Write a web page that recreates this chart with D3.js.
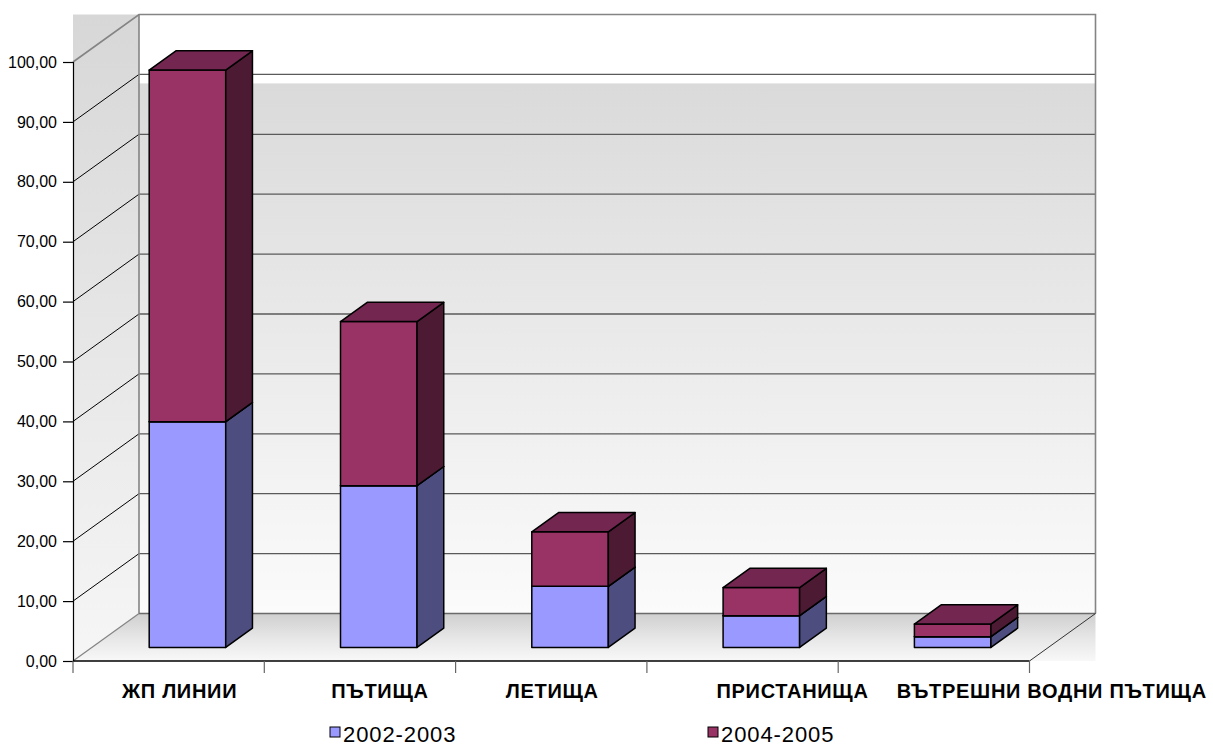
<!DOCTYPE html>
<html>
<head>
<meta charset="utf-8">
<script src="https://cdn.jsdelivr.net/npm/d3@7"></script>
<style>
  html, body { margin: 0; padding: 0; background: #ffffff; }
  svg { display: block; font-family: "Liberation Sans", Arial, sans-serif; }
</style>
</head>
<body>
<svg id="chart" width="1213" height="745"></svg>
<script>
// Transport infrastructure shares by mode, two periods (stacked 3D columns)
const categories = ["ЖП ЛИНИИ", "ПЪТИЩА", "ЛЕТИЩА", "ПРИСТАНИЩА", "ВЪТРЕШНИ ВОДНИ ПЪТИЩА"];
const seriesNames = ["2002-2003", "2004-2005"];
const values2002_2003 = [37.7, 27.0, 10.2, 5.3, 1.8];
const values2004_2005 = [58.7, 27.4, 9.1, 4.7, 2.1];
const yTicks = [0, 10, 20, 30, 40, 50, 60, 70, 80, 90, 100];

const svg = d3.select("#chart");

// Front plane of the plot and the oblique depth offset
const plot = { left: 73, right: 1029.5, bottom: 661, top: 62 };
const DX = 66, DY = -47.5;
const barFront = 0.285, barBack = 0.69;   // depth fractions of the columns

const x = d3.scaleBand().domain(categories).range([plot.left, plot.right])
  .paddingInner(0.6).paddingOuter(0.3);
const step = x.step();
const y = d3.scaleLinear().domain([0, 100]).range([plot.bottom, plot.top]);

const fmt = v => d3.format(".2f")(v).replace(".", ",");

const colors = [
  { front: "#9999FF", side: "#4D4D80", top: "#7A7ACC" },
  { front: "#993366", side: "#4D1A33", top: "#732650" }
];

const defs = svg.append("defs");
function vGrad(id, stops) {
  const g = defs.append("linearGradient").attr("id", id)
    .attr("x1", 0).attr("y1", 0).attr("x2", 0).attr("y2", 1);
  stops.forEach(([o, c]) => g.append("stop").attr("offset", o).attr("stop-color", c));
}
vGrad("wallGrad", [[0, "#dadada"], [1, "#fbfbfb"]]);
vGrad("sideGrad", [[0, "#d7d7d7"], [1, "#f6f6f6"]]);
vGrad("floorGrad", [[0, "#cfcfcf"], [0.5, "#e6e6e6"], [1, "#f8f8f8"]]);

const backL = plot.left + DX, backR = plot.right + DX;
const backTop = y(100) + DY, backBottom = y(0) + DY;

// Back wall: plain band at the top, shaded below the upper grid line
svg.append("rect").attr("x", backL).attr("y", backTop)
  .attr("width", backR - backL).attr("height", backBottom - backTop).attr("fill", "#ffffff");
svg.append("rect").attr("x", backL).attr("y", y(90) + DY + 9)
  .attr("width", backR - backL).attr("height", backBottom - (y(90) + DY + 9))
  .attr("fill", "url(#wallGrad)");

// Side wall
svg.append("rect").attr("x", plot.left).attr("y", backTop)
  .attr("width", DX).attr("height", plot.bottom - backTop).attr("fill", "url(#sideGrad)");

// Floor
svg.append("rect").attr("x", backL).attr("y", backBottom)
  .attr("width", backR - backL).attr("height", plot.bottom - backBottom).attr("fill", "url(#floorGrad)");
svg.append("path")
  .attr("d", `M${plot.left},${plot.bottom}L${backL},${backBottom}L${backL},${plot.bottom}Z`)
  .attr("fill", "url(#floorGrad)");

// Grid lines on the back wall and the side wall
const inner = yTicks.filter(v => v > 0 && v < 100);
svg.append("g").selectAll("line").data(inner).join("line")
  .attr("x1", backL).attr("x2", backR)
  .attr("y1", d => y(d) + DY).attr("y2", d => y(d) + DY)
  .attr("stroke", "#5a5a5a").attr("stroke-width", 1.3);
svg.append("g").selectAll("line").data(inner).join("line")
  .attr("x1", plot.left).attr("y1", d => y(d))
  .attr("x2", backL).attr("y2", d => y(d) + DY)
  .attr("stroke", "#000").attr("stroke-width", 1);

// Wall and floor edges
const edge = "#848484";
svg.append("path")
  .attr("d", `M${plot.left},${y(100)}L${backL},${backTop}L${backR},${backTop}L${backR},${backBottom}`)
  .attr("fill", "none").attr("stroke", edge).attr("stroke-width", 1.6);
svg.append("line").attr("x1", backL).attr("x2", backL).attr("y1", backTop).attr("y2", backBottom)
  .attr("stroke", edge).attr("stroke-width", 1.6);
svg.append("line").attr("x1", backL).attr("x2", backR).attr("y1", backBottom).attr("y2", backBottom)
  .attr("stroke", "#6a6a6a").attr("stroke-width", 1.4);
svg.append("line").attr("x1", plot.left).attr("y1", plot.bottom).attr("x2", backL).attr("y2", backBottom)
  .attr("stroke", edge).attr("stroke-width", 1.2);
svg.append("line").attr("x1", plot.right).attr("y1", plot.bottom).attr("x2", backR).attr("y2", backBottom)
  .attr("stroke", "#333").attr("stroke-width", 1);

// Stacked 3D columns
const stack = categories.map((c, i) => {
  const a = values2002_2003[i], b = values2004_2005[i];
  return { cat: c, segs: [{ s: 0, y0: 0, y1: a }, { s: 1, y0: a, y1: a + b }] };
});
const fdx = DX * barFront, fdy = DY * barFront;
const ddx = DX * (barBack - barFront), ddy = DY * (barBack - barFront);

const bars = svg.append("g").attr("stroke", "#000").attr("stroke-width", 1.5)
  .attr("stroke-linejoin", "round");
stack.forEach(col => {
  const xl = x(col.cat) + fdx, xr = xl + x.bandwidth();
  col.segs.forEach(seg => {
    const yb = y(seg.y0) + fdy, yt = y(seg.y1) + fdy;
    const c = colors[seg.s];
    bars.append("path")
      .attr("d", `M${xl},${yb}L${xr},${yb}L${xr},${yt}L${xl},${yt}Z`).attr("fill", c.front);
    bars.append("path")
      .attr("d", `M${xr},${yb}L${xr + ddx},${yb + ddy}L${xr + ddx},${yt + ddy}L${xr},${yt}Z`).attr("fill", c.side);
    bars.append("path")
      .attr("d", `M${xl},${yt}L${xr},${yt}L${xr + ddx},${yt + ddy}L${xl + ddx},${yt + ddy}Z`).attr("fill", c.top);
  });
});

// Value axis
const yAxis = svg.append("g").attr("transform", `translate(${plot.left},0)`)
  .call(d3.axisLeft(y).tickValues(yTicks).tickFormat(fmt).tickSize(10).tickPadding(6));
yAxis.select(".domain").attr("stroke", "#000").attr("stroke-width", 1.2);
yAxis.selectAll(".tick line").attr("stroke", "#000").attr("stroke-width", 1.2);
yAxis.selectAll("text").attr("font-size", 16).attr("fill", "#000")
  .attr("font-family", "Liberation Sans, Arial, sans-serif");

// Category axis
svg.append("line").attr("x1", plot.left).attr("x2", plot.right)
  .attr("y1", plot.bottom).attr("y2", plot.bottom).attr("stroke", "#000").attr("stroke-width", 1.3);
const bounds = d3.range(categories.length + 1).map(i => plot.left + i * step);
svg.append("g").selectAll("line").data(bounds).join("line")
  .attr("x1", d => d).attr("x2", d => d)
  .attr("y1", plot.bottom).attr("y2", plot.bottom + 12)
  .attr("stroke", "#666").attr("stroke-width", 1.2);

// Category labels, nudged apart as laid out on the chart
const labelShift = [11, 20, 1, 50, 118];
svg.append("g").selectAll("text").data(categories).join("text")
  .attr("x", (d, i) => x(d) + x.bandwidth() / 2 + labelShift[i])
  .attr("y", 698)
  .attr("text-anchor", "middle")
  .attr("font-size", 20).attr("font-weight", "bold").attr("letter-spacing", 0.7)
  .attr("fill", "#000")
  .text(d => d);

// Legend
const legendX = [330, 708];
const legend = svg.append("g").selectAll("g").data(seriesNames).join("g")
  .attr("transform", (d, i) => `translate(${legendX[i]},727)`);
legend.append("rect").attr("width", 10).attr("height", 10)
  .attr("fill", (d, i) => colors[i].front).attr("stroke", "#000").attr("stroke-width", 1);
legend.append("text").attr("x", 13).attr("y", 14.5)
  .attr("font-size", 22).attr("letter-spacing", 0.9).attr("fill", "#000").text(d => d);
</script>
</body>
</html>
